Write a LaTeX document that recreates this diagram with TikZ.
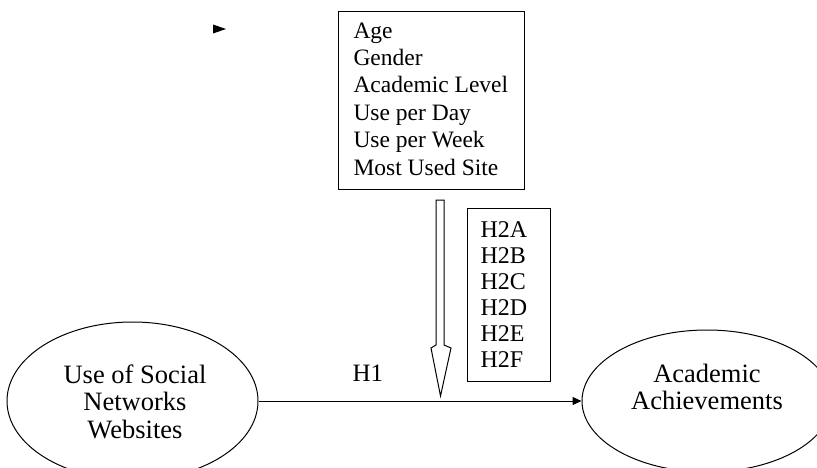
\documentclass[tikz,border=0pt]{standalone}
\usepackage{fontspec}
\setmainfont{Liberation Serif}
\usetikzlibrary{arrows.meta,shapes.geometric}
\begin{document}
\begin{tikzpicture}[x=1pt,y=-1pt,
  line width=1pt,
  boxline/.style={draw, line width=1pt, inner sep=0pt, anchor=north west},
  listtext/.style={anchor=north west, inner sep=0pt, align=left},
  oval/.style={draw, ellipse, line width=1pt, inner sep=0pt},
  ovaltext/.style={inner sep=0pt, align=center, font=\fontsize{26.5}{27.5}\selectfont}]
\useasboundingbox (0,0) rectangle (817,467);
\clip (0,0) rectangle (817,467);
% small stray arrowhead
\fill (213,24.5) -- (226,29) -- (213,33.5) -- cycle;
% moderators box
\node (vars) [boxline, minimum width=186pt, minimum height=178pt] at (338,11) {};
\node (varstext) [listtext, font=\fontsize{23.5}{27.4}\selectfont] at (353,22.1)
  {Age\\Gender\\Academic Level\\Use per Day\\Use per Week\\Most Used Site};
% hypotheses box
\node (hyp) [boxline, minimum width=83pt, minimum height=173pt] at (467,208) {};
\node (hyptext) [listtext, font=\fontsize{24}{26}\selectfont] at (480,221.1)
  {H2A\\H2B\\H2C\\H2D\\H2E\\H2F};
% ellipses
\node (sns) [oval, minimum width=251pt, minimum height=158pt] at (132.5,401) {};
\node (snstext) [ovaltext] at (135,401.5) {Use of Social\\Networks\\Websites};
\node (ach) [oval, minimum width=250pt, minimum height=142pt] at (707,401) {};
\node (achtext) [ovaltext] at (707,387) {Academic\\Achievements};
% main arrow
\draw[-{Triangle[length=9pt,width=8pt]}] (sns) -- (ach);
\node (h1) [anchor=base west, inner sep=0pt, font=\fontsize{25}{27}\selectfont] at (352,381) {H1};
% hollow moderating arrow
\draw[line join=miter] (436,200) -- (444,200) -- (444,345) -- (451,348) -- (440.5,396)
  -- (431,348) -- (436,345) -- cycle;
\end{tikzpicture}
\end{document}
